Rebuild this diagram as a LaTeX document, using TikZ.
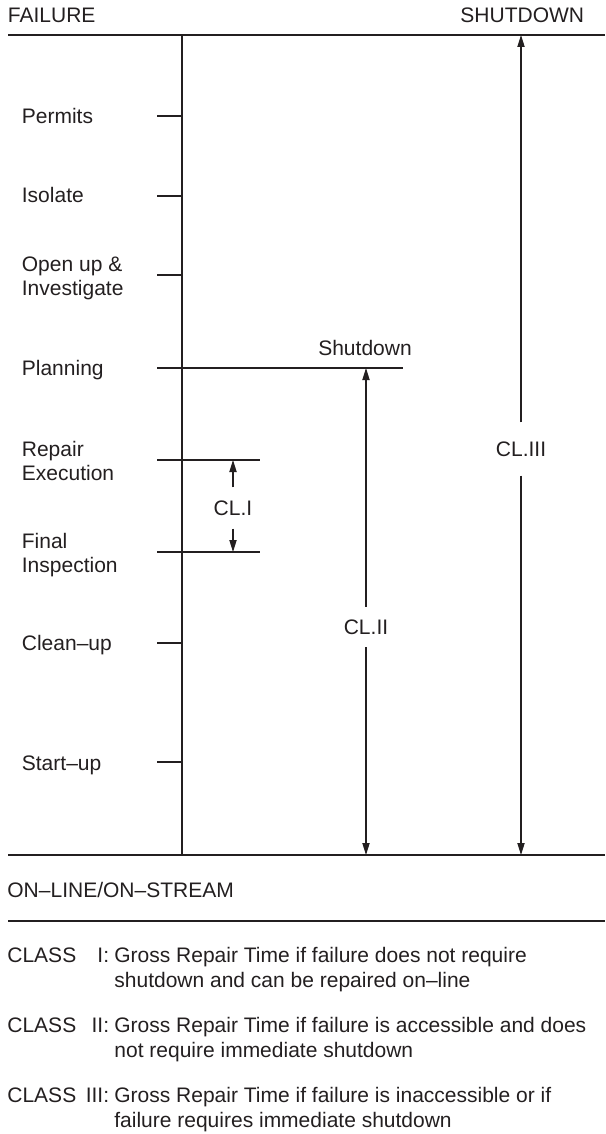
\documentclass[tikz,border=0pt]{standalone}
\usepackage{fontspec}
\setmainfont{Liberation Sans}
\usepackage{xcolor}
\usepackage{tikz}
\usetikzlibrary{arrows.meta,calc}
\definecolor{inkgray}{HTML}{231F20}
\tikzstyle{tsText} = [ 
    text=inkgray, 
    font=\fontsize{10.5}{12}\selectfont,
    inner sep=0pt
]
\tikzstyle{tsStep} = [ 
    tsText, 
    anchor=base west,
    align=left
]
\tikzstyle{tsLegend} = [ 
    tsStep, 
    font=\fontsize{10.5}{12.5}\selectfont
]
\tikzstyle{tsClass} = [ 
    tsText, 
    fill=white,
    inner xsep=2pt
]
\tikzstyle{tsThick} = [draw=inkgray, line width=1.35pt]
\tikzstyle{tsTick} = [draw=inkgray, line width=0.7pt]
\tikzstyle{tsRule} = [draw=inkgray, line width=0.85pt]
\tikzstyle{tsDim} = [ 
    draw=inkgray, 
    line width=0.6pt,
    -{Triangle[length=6pt,width=3.6pt]}
]

\begin{document}
\begin{tikzpicture}[x=0.5pt, y=-0.5pt]
        
    \useasboundingbox (0,0) rectangle (605,1134);

    % frame: failure at the top, on-line at the bottom
    \node[tsText, anchor=base west] (failure) at (7.5,23) {FAILURE};
    \node[tsText, anchor=base east] (shut) at (584.5,23) {SHUTDOWN};
    \draw[tsThick] (8,35) coordinate (tl) -- (605,35) coordinate (tr);
    \draw[tsThick] (8,855) coordinate (bl) -- (605,855) coordinate (br);
    \draw[tsThick] (182,35) coordinate (axtop) -- (182,855) coordinate (axbot);

    % repair steps (base sits on the last line)
    \node[tsStep] (permits) at (21.5,124) {Permits};
    \node[tsStep] (isolate) at (21.5,203) {Isolate};
    \node[tsStep] (open) at (21.5,295) {Open up \&\\Investigate};
    \node[tsStep] (plan) at (21.5,375) {Planning};
    \node[tsStep] (repair) at (21.5,480) {Repair\\Execution};
    \node[tsStep] (final) at (21.5,572) {Final\\Inspection};
    \node[tsStep] (clean) at (21.5,650) {Clean–up};
    \node[tsStep] (start) at (21.5,770) {Start–up};

    \draw[tsTick] (157,116) -- (axtop |- 0,116);
    \draw[tsTick] (157,196) -- (axtop |- 0,196);
    \draw[tsTick] (157,275) -- (axtop |- 0,275);
    \draw[tsTick] (157,643) -- (axtop |- 0,643);
    \draw[tsTick] (157,762) -- (axtop |- 0,762);
    \draw[tsTick] (157,368) coordinate (planL) -- (403,368) coordinate (planR);
    \draw[tsTick] (157,460) coordinate (repL) -- (260,460) coordinate (repR);
    \draw[tsTick] (157,552) coordinate (finL) -- (260,552) coordinate (finR);

    \node[tsText, anchor=base] (shutdown) at (365,355) {Shutdown};

    % repair time classes
    \node[tsClass, inner ysep=6.4pt] (cl1) at (233,508) {CL.I};
    \node[tsClass, inner ysep=6.2pt] (cl2) at (366,627) {CL.II};
    \node[tsClass, inner ysep=9.4pt] (cl3) at (521,449) {CL.III};

    \draw[tsDim] (cl1.north) -- (cl1.north |- repR);
    \draw[tsDim] (cl1.south) -- (cl1.south |- finR);
    \draw[tsDim] (cl2.north) -- (cl2.north |- planR);
    \draw[tsDim] (cl2.south) -- (cl2.south |- bl);
    \draw[tsDim] (cl3.north) -- (cl3.north |- tl);
    \draw[tsDim] (cl3.south) -- (cl3.south |- bl);

    % legend
    \node[tsText, anchor=base west] (online) at (7,897) {ON–LINE/ON–STREAM};
    \draw[tsRule] (8,921) -- (605,921);

    \node[tsText, anchor=base west] (classA) at (7,962) {CLASS};
    \node[tsText, anchor=base east] (numA) at (109.5,962) {I:};
    \node[tsLegend] (textA) at (114,987) {Gross Repair Time if failure does not require\\shutdown and can be repaired on–line};

    \node[tsText, anchor=base west] (classB) at (7,1032) {CLASS};
    \node[tsText, anchor=base east] (numB) at (109.5,1032) {II:};
    \node[tsLegend] (textB) at (114,1057) {Gross Repair Time if failure is accessible and does\\not require immediate shutdown};

    \node[tsText, anchor=base west] (classC) at (7,1102) {CLASS};
    \node[tsText, anchor=base east] (numC) at (109.5,1102) {III:};
    \node[tsLegend] (textC) at (114,1127) {Gross Repair Time if failure is inaccessible or if\\failure requires immediate shutdown};
       
\end{tikzpicture}
\end{document}
